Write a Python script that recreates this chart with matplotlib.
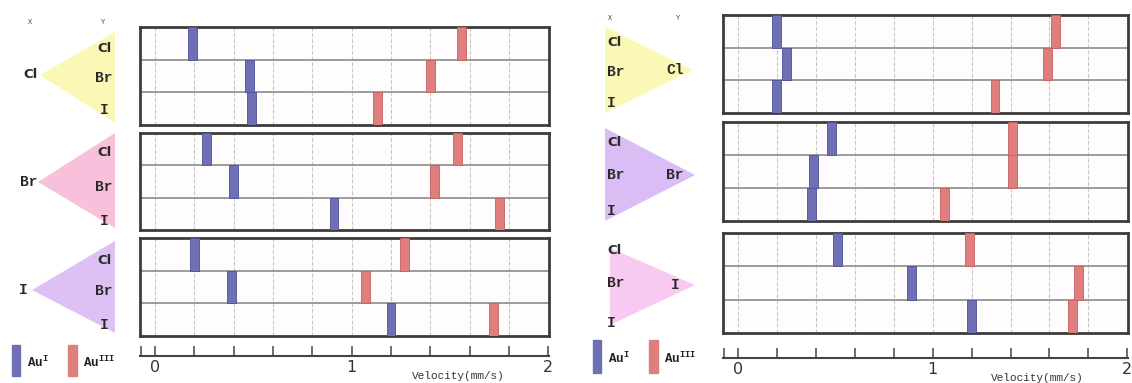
import numpy as np
import matplotlib
matplotlib.use("Agg")
import matplotlib.pyplot as plt
from matplotlib.patches import Polygon, Rectangle

# halide rows / groups
halides = ['Cl', 'Br', 'I']

# left figure: groups by X (Cl, Br, I), rows Y = Cl, Br, I  (velocity, mm/s)
left_au1 = [[0.19, 0.48, 0.49],
            [0.26, 0.40, 0.91],
            [0.20, 0.39, 1.20]]
left_au3 = [[1.56, 1.40, 1.13],
            [1.54, 1.42, 1.75],
            [1.27, 1.07, 1.72]]

# right figure: groups by Y (Cl, Br, I), rows X = Cl, Br, I
right_au1 = [[0.20, 0.25, 0.20],
             [0.48, 0.39, 0.38],
             [0.51, 0.89, 1.20]]
right_au3 = [[1.63, 1.59, 1.32],
             [1.41, 1.41, 1.06],
             [1.19, 1.75, 1.72]]

tick_vals = [0, 1, 2]

W, H = 1132, 383
fig = plt.figure(figsize=(W / 100, H / 100), dpi=100)

blue = '#6d70b4'
red = '#e07d7d'
mono = 'Liberation Mono'
XLIM = (-0.076, 2.003)

ov = fig.add_axes([0, 0, 1, 1])
ov.set_xlim(0, W)
ov.set_ylim(H, 0)
ov.axis('off')


def px_axes(x0, y0, x1, y1):
    return fig.add_axes([x0 / W, 1 - y1 / H, (x1 - x0) / W, (y1 - y0) / H])


def group_panel(box, au1, au3):
    ax = px_axes(*box)
    ax.set_facecolor('#fefcfd')
    rows = np.arange(len(halides))
    ax.bar(au1, 1, bottom=rows, width=0.045, color=blue, edgecolor='#4d509a', lw=0.6, zorder=3)
    ax.bar(au3, 1, bottom=rows, width=0.045, color=red, edgecolor='#c55f5f', lw=0.6, zorder=3)
    ax.set_xlim(*XLIM)
    ax.set_ylim(3, 0)
    ax.set_xticks(np.round(np.arange(0, 1.81, 0.2), 2))
    ax.set_yticks([1, 2])
    ax.grid(axis='x', ls='--', color='#c8c8c8', lw=0.8)
    ax.grid(axis='y', ls='-', color='#8c8c8c', lw=1.2)
    ax.tick_params(length=0, labelbottom=False, labelleft=False)
    for s in ax.spines.values():
        s.set_color('#3c3c3c')
        s.set_linewidth(2)
    return ax


def velocity_axis(x0, x1, yb):
    ax = px_axes(x0, yb - 16, x1, yb)
    ax.set_xlim(*XLIM)
    ax.patch.set_alpha(0)
    for k in ['top', 'left', 'right']:
        ax.spines[k].set_visible(False)
    ax.spines['bottom'].set_color('#444444')
    ax.spines['bottom'].set_linewidth(1.5)
    ticks = [XLIM[0] + 0.004] + list(np.round(np.arange(0, 2.01, 0.2), 2))
    ax.set_xticks(ticks)
    ax.set_xticklabels(['' if t not in tick_vals else str(int(t)) for t in ticks],
                       fontsize=11.5, color='#333333')
    ax.tick_params(axis='x', direction='in', length=7, width=1.1, color='#444444', pad=3)
    ax.set_yticks([])
    ax.text(1.54, -1.22, 'Velocity(mm/s)', transform=ax.get_xaxis_transform(),
            ha='center', va='center', fontsize=8, family=mono, color='#333333')
    return ax


def legend(x_blue, x_red, y0, y1):
    ov.add_patch(Rectangle((x_blue, y0), 8, y1 - y0, color=blue))
    ov.text(x_blue + 15, (y0 + y1) / 2 + 2, r'Au$^{\mathregular{I}}$', family=mono, fontsize=9,
            ha='left', va='center', color='#222222', weight='bold')
    ov.add_patch(Rectangle((x_red, y0), 9, y1 - y0, color=red))
    ov.text(x_red + 15, (y0 + y1) / 2 + 2, r'Au$^{\mathregular{III}}$', family=mono, fontsize=9,
            ha='left', va='center', color='#222222', weight='bold')


def lab(x, y, s, ha='center', size=10.5):
    fam = 'DejaVu Sans' if s == 'Cl' else mono
    ov.text(x, y, s, ha=ha, va='center', fontsize=size if s != 'Cl' else size - 1,
            family=fam, weight='bold', color='#2a2a2a')


# ---------------- left figure ----------------
left_boxes = [(140, 27, 549, 125), (140, 133, 549, 230), (140, 238, 549, 336)]
left_tri = [((40, 75), 32, 123, '#fbf8b6'),
            ((38, 182), 133, 228, '#f8c0da'),
            ((32, 290), 241, 333, '#ddc1f5')]
left_rows_y = [[48, 78, 110], [153, 187, 221], [260, 291, 325]]

for g, name in enumerate(halides):
    group_panel(left_boxes[g], left_au1[g], left_au3[g])
    apex, yt, yb, col = left_tri[g]
    ov.add_patch(Polygon([apex, (115, yt), (115, yb)], closed=True, color=col, lw=0))
    lab(apex[0] - 9, apex[1], name)
    for r, rn in enumerate(halides):
        lab(104, left_rows_y[g][r], rn)

ov.text(30, 22, 'X', fontsize=5, family=mono, ha='center', va='center', color='#444444')
ov.text(103, 22, 'Y', fontsize=5, family=mono, ha='center', va='center', color='#444444')
velocity_axis(140, 549, 356)
legend(12, 68, 345, 376)

# ---------------- right figure ----------------
right_boxes = [(723, 15, 1128, 113), (723, 122, 1128, 221), (723, 233, 1128, 333)]
right_tri = [((693, 70), 605, 27, 113, '#fbf8b6'),
             ((695, 175), 605, 128, 221, '#d9bdf4'),
             ((695, 285), 610, 248, 325, '#f8c9f1')]
right_rows_y = [[42, 72, 103], [143, 175, 211], [251, 283, 323]]

for g, name in enumerate(halides):
    group_panel(right_boxes[g], right_au1[g], right_au3[g])
    apex, xb, yt, yb, col = right_tri[g]
    ov.add_patch(Polygon([apex, (xb, yt), (xb, yb)], closed=True, color=col, lw=0))
    ov.text(675, apex[1], name, ha='center', va='center', fontsize=10.5, family=mono,
            weight='bold', color='#2a2a2a')
    for r, rn in enumerate(halides):
        lab(607, right_rows_y[g][r], rn, ha='left')

ov.text(610, 18, 'X', fontsize=5, family=mono, ha='center', va='center', color='#444444')
ov.text(678, 18, 'Y', fontsize=5, family=mono, ha='center', va='center', color='#444444')
velocity_axis(723, 1128, 358)
legend(593, 649, 340, 373)

fig.savefig('out.png', dpi=100)
